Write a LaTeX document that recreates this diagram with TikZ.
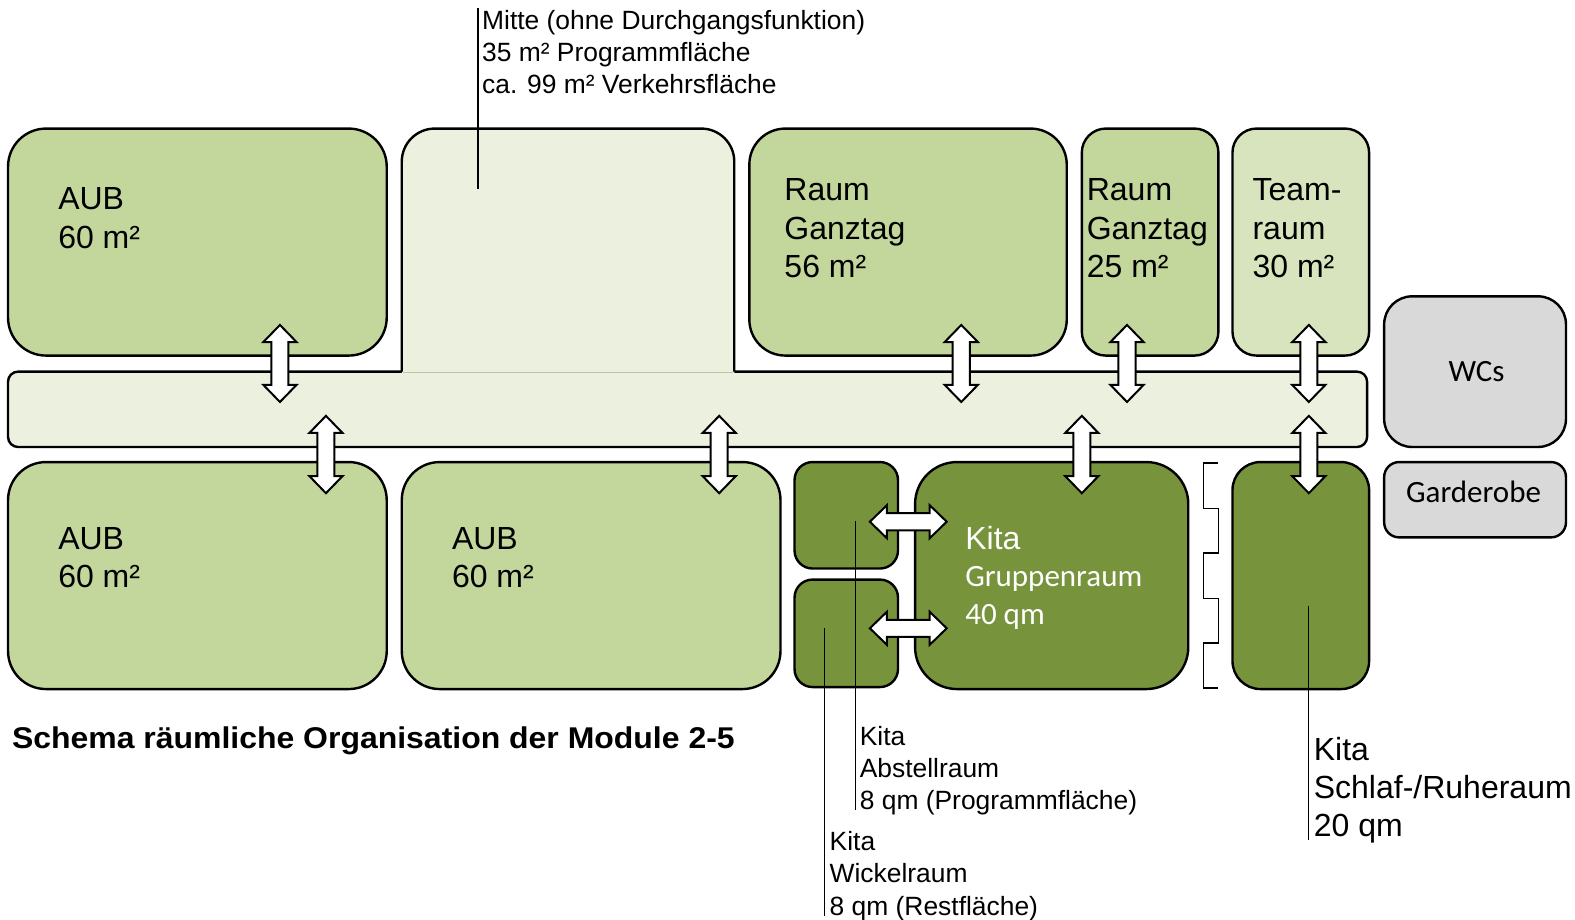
\documentclass[tikz,border=0pt]{standalone}
\usepackage{fontspec}
\setmainfont{Liberation Sans}
\newfontfamily\calfont{Carlito}
\usetikzlibrary{fit}
\definecolor{aubgreen}{HTML}{C3D69B}
\definecolor{teamgreen}{HTML}{D7E4BD}
\definecolor{palegreen}{HTML}{EBF1DE}
\definecolor{kitagreen}{HTML}{77933C}
\definecolor{wcgray}{HTML}{D9D9D9}
\definecolor{seamgray}{HTML}{BDC4AE}
\newcommand\fBox{\fontsize{32}{38}\selectfont}
\newcommand\fLab{\fontsize{26.4}{32}\selectfont}
\newcommand\fCal{\calfont\fontsize{31}{38}\selectfont}
\newcommand\fTitle{\bfseries\fontsize{30}{36}\selectfont}
\newcommand\varr[3]{\draw[blockarrow] (#1,#2) -- ({#1+16.5},{#2+17}) -- ({#1+8.5},{#2+17}) -- ({#1+8.5},{#3-17}) -- ({#1+16.5},{#3-17}) -- (#1,#3) -- ({#1-16.5},{#3-17}) -- ({#1-8.5},{#3-17}) -- ({#1-8.5},{#2+17}) -- ({#1-16.5},{#2+17}) -- cycle;}
\newcommand\harr[3]{\draw[blockarrow] (#2,#1) -- ({#2+17},{#1-16.5}) -- ({#2+17},{#1-8.5}) -- ({#3-17},{#1-8.5}) -- ({#3-17},{#1-16.5}) -- (#3,#1) -- ({#3-17},{#1+16.5}) -- ({#3-17},{#1+8.5}) -- ({#2+17},{#1+8.5}) -- ({#2+17},{#1+16.5}) -- cycle;}
\newcommand\txt[5]{\node[txtline, font=#4] (#1) at (#2,#3) {#5};}
\begin{document}
\begin{tikzpicture}[x=1.00446pt, y=-1.00446pt,
  room/.style={draw=black, line width=2.4pt, inner sep=0pt, outer sep=0pt},
  blockarrow/.style={draw=black, fill=white, line width=2pt, line join=miter},
  leader/.style={draw=black, line width=1.3pt},
  txtline/.style={anchor=base west, inner sep=0pt, outer sep=0pt}]
\useasboundingbox (0,0) rectangle (1568,915);

% corridor
\node[room, fill=palegreen, rounded corners=10pt, fit={(8,370) (1361,445)}] (corr) {};
% Mitte
\fill[palegreen, rounded corners=33pt] (400,371.7) -- (400,128) -- (731,128) -- (731,371.7);
\draw[line width=2.4pt, rounded corners=33pt] (400,370) -- (400,128) -- (731,128) -- (731,370);
\node[inner sep=0pt, fit={(400,128) (731,370)}] (mitte) {};
\draw[seamgray, line width=1pt] (401.5,370.5) -- (729.5,370.5);

% upper rooms
\node[room, fill=aubgreen, rounded corners=38pt, fit={(8,128) (385,354)}] (aubA) {};
\node[room, fill=aubgreen, rounded corners=36pt, fit={(746,128) (1062,354)}] (rg56) {};
\node[room, fill=aubgreen, rounded corners=24pt, fit={(1077,128) (1213,354)}] (rg25) {};
\node[room, fill=teamgreen, rounded corners=24pt, fit={(1227,128) (1363,354)}] (team) {};
\node[room, fill=wcgray, rounded corners=28pt, fit={(1378,295) (1559,445)}] (wcs) {};
\node[room, fill=wcgray, rounded corners=15pt, fit={(1378,460) (1559,535)}] (garde) {};

% lower rooms
\node[room, fill=aubgreen, rounded corners=38pt, fit={(8,460) (385,686)}] (aubB) {};
\node[room, fill=aubgreen, rounded corners=38pt, fit={(400,460) (777,686)}] (aubC) {};
\node[room, fill=kitagreen, rounded corners=18pt, fit={(791,460) (894,566)}] (kabst) {};
\node[room, fill=kitagreen, rounded corners=18pt, fit={(791,577) (894,684)}] (kwick) {};
\node[room, fill=kitagreen, rounded corners=42pt, fit={(911,460) (1183,686)}] (kgrup) {};
\node[room, fill=kitagreen, rounded corners=28pt, fit={(1227,460) (1363,686)}] (kschl) {};

% bracket
\draw[line width=1.3pt] (1213,461) -- (1198,461) -- (1198,506) -- (1213,506) -- (1213,550.5) -- (1198,550.5) -- (1198,595.5) -- (1213,595.5) -- (1213,640) -- (1198,640) -- (1198,685) -- (1213,685);

% block arrows
\varr{278.7}{323.5}{400.2}
\varr{324.5}{414}{491}
\varr{716}{414}{491}
\varr{957}{323.5}{400.2}
\varr{1077}{414}{491}
\varr{1122}{323.5}{400.2}
\varr{1303}{323.5}{400.2}
\varr{1303}{414}{491}
\harr{519.4}{866}{942.5}
\harr{625.5}{866}{942.5}

% leader lines
\coordinate (mtop) at (476,8);
\draw[leader] (mtop) -- (476,188);
\draw[leader] (852,519) -- (852,806);
\draw[leader] (821,625) -- (821,912);
\draw[leader] (1303,603) -- (1303,836);

% texts
\txt{m1}{480}{29}{\fLab}{Mitte (ohne Durchgangsfunktion)}
\txt{m2}{480}{61}{\fLab}{35 m² Programmfläche}
\txt{m3}{480}{93}{\fLab}{ca. 99 m² Verkehrsfläche}

\txt{a1}{58}{209}{\fBox}{AUB}
\txt{a2}{58}{247}{\fBox}{60 m²}
\txt{r1}{781}{200}{\fBox}{Raum}
\txt{r2}{781}{238}{\fBox}{Ganztag}
\txt{r3}{781}{276}{\fBox}{56 m²}
\txt{s1}{1082}{200}{\fBox}{Raum}
\txt{s2}{1082}{238}{\fBox}{Ganztag}
\txt{s3}{1082}{276}{\fBox}{25 m²}
\txt{t1}{1247}{200}{\fBox}{Team-}
\txt{t2}{1247}{238}{\fBox}{raum}
\txt{t3}{1247}{276}{\fBox}{30 m²}

\txt{b1}{58}{547}{\fBox}{AUB}
\txt{b2}{58}{585}{\fBox}{60 m²}
\txt{c1}{450}{547}{\fBox}{AUB}
\txt{c2}{450}{585}{\fBox}{60 m²}

\txt{g1}{961}{547}{\fBox\color{white}}{Kita}
\txt{g2}{961}{584}{\fCal\color{white}}{Gruppenraum}
\txt{g3}{961}{622}{\fCal\color{white}}{40 qm}

\node[font=\fCal, inner sep=0pt] (wctext) at (1470,370) {WCs};
\node[font=\fCal, inner sep=0pt] (gatext) at (1467,490) {Garderobe};

\txt{ab1}{856}{742}{\fLab}{Kita}
\txt{ab2}{856}{774}{\fLab}{Abstellraum}
\txt{ab3}{856}{806}{\fLab}{8 qm (Programmfläche)}
\txt{wi1}{826}{847}{\fLab}{Kita}
\txt{wi2}{826}{879}{\fLab}{Wickelraum}
\txt{wi3}{826}{911}{\fLab}{8 qm (Restfläche)}
\txt{sc1}{1308}{757}{\fBox}{Kita}
\txt{sc2}{1308}{795}{\fBox}{Schlaf-/Ruheraum}
\txt{sc3}{1308}{833}{\fBox}{20 qm}

\node[txtline, font=\fTitle, xscale=1.065, transform shape] (title) at (12,745) {Schema räumliche Organisation der Module 2-5};
\end{tikzpicture}
\end{document}
